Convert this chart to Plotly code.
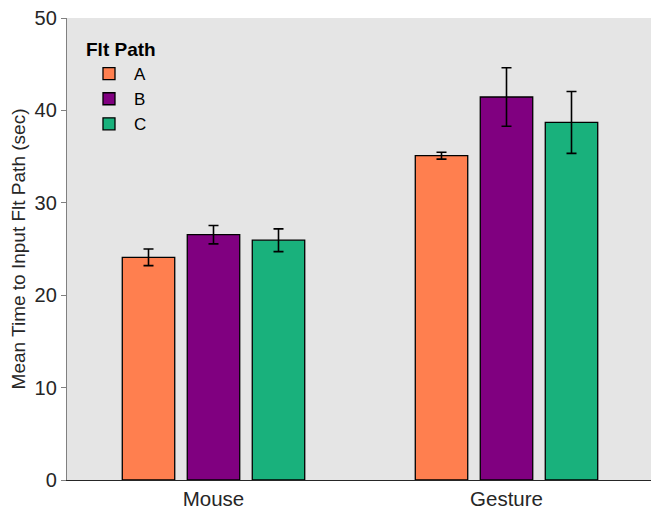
import plotly.graph_objects as go

categories = ["Mouse", "Gesture"]
series_names = ["A", "B", "C"]
means = {
    "A": [24.1, 35.1],
    "B": [26.55, 41.45],
    "C": [25.95, 38.7],
}
errors = {
    "A": [0.9, 0.37],
    "B": [1.0, 3.17],
    "C": [1.23, 3.35],
}
colors = {"A": "#FF7F4F", "B": "#800080", "C": "#19B17C"}
y_ticks = [0, 10, 20, 30, 40, 50]

font_family = "Liberation Sans, Arial, sans-serif"

fig = go.Figure()
for s in series_names:
    fig.add_trace(go.Bar(
        x=[0, 1], y=means[s], name=s,
        marker=dict(color=colors[s], line=dict(color="black", width=1.3)),
        error_y=dict(type="data", array=errors[s], visible=True,
                     color="black", thickness=1.6, width=5),
    ))

fig.update_layout(
    width=651, height=506,
    margin=dict(l=59, r=6, t=10, b=33.5, autoexpand=False),
    paper_bgcolor="white",
    plot_bgcolor="#E5E5E5",
    barmode="group",
    bargap=0.3345,
    bargroupgap=0.193,
    font=dict(family=font_family, color="#262626", size=18),
    showlegend=True,
    legend=dict(
        title=dict(text="<b>Flt Path</b>", font=dict(size=19, color="black")),
        x=0.029, y=0.971, xanchor="left", yanchor="top",
        bgcolor="rgba(0,0,0,0)",
        font=dict(size=17, color="black"),
        tracegroupgap=0,
        itemwidth=40,
    ),
    xaxis=dict(
        range=[-0.5, 1.5],
        tickmode="array", tickvals=[0, 1], ticktext=categories,
        showgrid=False, zeroline=False, automargin=False,
        showline=True, linecolor="#262626", linewidth=1.3,
        ticks="", tickfont=dict(size=20.5, color="#262626"),
    ),
    yaxis=dict(
        range=[0, 50],
        tickmode="array", tickvals=y_ticks,
        showgrid=False, zeroline=False, automargin=False,
        showline=True, linecolor="#808080", linewidth=1.3,
        ticks="outside", ticklen=5, tickcolor="#808080",
        tickfont=dict(size=20, color="#262626"),
        ticklabeloverflow="allow",
        title=dict(text="Mean Time to Input Flt Path (sec)",
                   font=dict(size=19, color="#262626"), standoff=9),
    ),
)

fig.write_html("out.html")
